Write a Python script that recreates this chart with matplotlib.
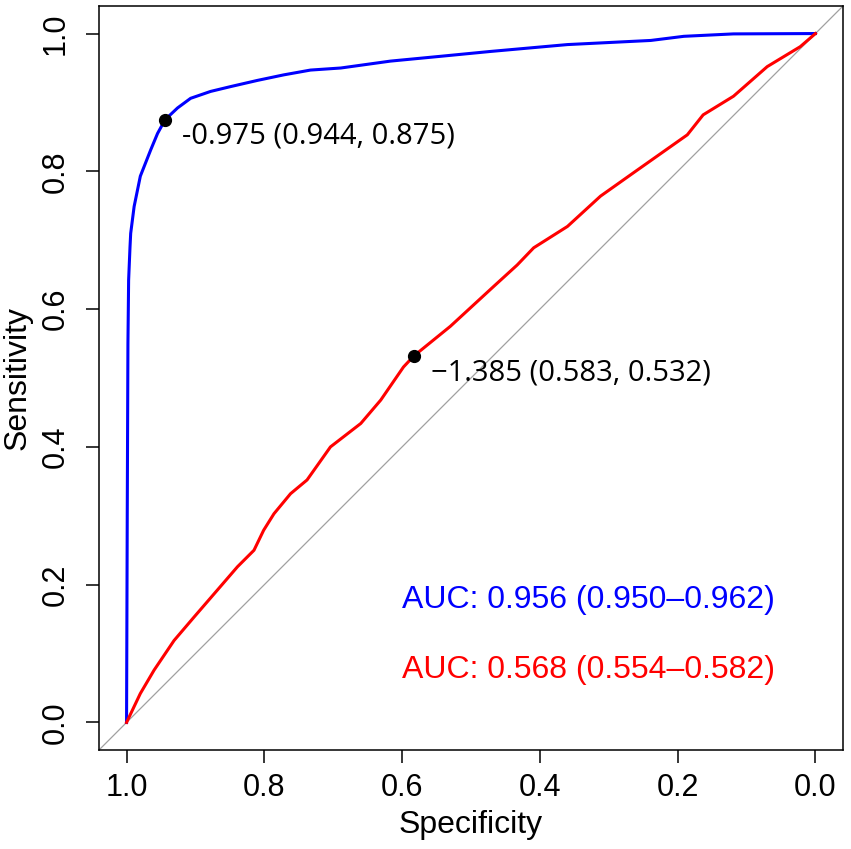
import matplotlib
matplotlib.use("Agg")
import matplotlib.pyplot as plt
import numpy as np

# Blue ROC curve (specificity, sensitivity)
blue_spec = [1.000, 0.999, 0.998, 0.997, 0.995, 0.994, 0.989, 0.980, 0.965, 0.955,
             0.944, 0.926, 0.907, 0.878, 0.849, 0.810, 0.772, 0.733, 0.689, 0.617,
             0.544, 0.472, 0.360, 0.239, 0.191, 0.119, 0.000]
blue_sens = [0.000, 0.300, 0.550, 0.642, 0.690, 0.710, 0.749, 0.793, 0.831, 0.855,
             0.875, 0.892, 0.906, 0.916, 0.923, 0.932, 0.940, 0.947, 0.950, 0.960,
             0.967, 0.974, 0.984, 0.990, 0.996, 0.9995, 1.000]

# Red ROC curve (specificity, sensitivity)
red_spec = [1.000, 0.980, 0.960, 0.931, 0.902, 0.864, 0.839, 0.815, 0.801, 0.786,
            0.762, 0.738, 0.704, 0.660, 0.631, 0.598, 0.583, 0.530, 0.467, 0.433,
            0.409, 0.360, 0.312, 0.264, 0.186, 0.163, 0.119, 0.070, 0.022, 0.000]
red_sens = [0.000, 0.042, 0.076, 0.119, 0.153, 0.197, 0.226, 0.250, 0.279, 0.303,
            0.332, 0.352, 0.400, 0.434, 0.468, 0.516, 0.532, 0.575, 0.633, 0.664,
            0.689, 0.720, 0.764, 0.798, 0.853, 0.882, 0.909, 0.952, 0.981, 1.000]

# Best thresholds
blue_thr = (0.944, 0.875)
red_thr = (0.583, 0.532)
blue_thr_label = "-0.975 (0.944, 0.875)"
red_thr_label = "\u22121.385 (0.583, 0.532)"

auc_labels = ["AUC: 0.956 (0.950\u20130.962)", "AUC: 0.568 (0.554\u20130.582)"]
auc_pos = [(0.6, 0.166), (0.6, 0.064)]

ticks = [0.0, 0.2, 0.4, 0.6, 0.8, 1.0]
tick_labels = ["0.0", "0.2", "0.4", "0.6", "0.8", "1.0"]

plt.rcParams['font.family'] = ['Liberation Sans', 'DejaVu Sans']

fig = plt.figure(figsize=(8.51, 8.49), dpi=100)
ax = fig.add_axes([99 / 851, (849 - 750) / 849, 744 / 851, 744 / 849])

ax.plot([1.04, -0.04], [-0.04, 1.04], color="#A0A0A0", lw=0.9, zorder=1)
ax.plot(blue_spec, blue_sens, color="blue", lw=2.2, zorder=3)
ax.plot(red_spec, red_sens, color="red", lw=2.2, zorder=3)

ann_font = ['Open Sans', 'DejaVu Sans']
for (sx, sy), lab in [(blue_thr, blue_thr_label), (red_thr, red_thr_label)]:
    ax.plot([sx], [sy], 'o', color='black', ms=8.5, zorder=4)
    ax.annotate(lab, (sx, sy), xytext=(12.5, -17.5), textcoords='offset points',
                ha='left', va='baseline', fontsize=21, family=ann_font)

for (tx, ty), lab, c in zip(auc_pos, auc_labels, ["blue", "red"]):
    ax.text(tx, ty, lab, color=c, fontsize=23, ha='left', va='baseline')

ax.set_xlim(1.04, -0.04)
ax.set_ylim(-0.04, 1.04)
ax.set_xticks(ticks)
ax.set_xticklabels(tick_labels)
ax.set_yticks(ticks)
ax.set_yticklabels(tick_labels, rotation=90, va='center')
ax.tick_params(direction='out', length=9.4, width=1.1, labelsize=22, color='black')
ax.tick_params(axis='x', pad=7)
ax.tick_params(axis='y', pad=11)
for s in ax.spines.values():
    s.set_linewidth(1.1)

ax.set_xlabel("Specificity", fontsize=23)
ax.set_ylabel("Sensitivity", fontsize=23)
ax.xaxis.set_label_coords(0.5, (750 - 810) / 744)
ax.xaxis.label.set_va('top')
ax.yaxis.set_label_coords((33 - 99) / 744, 0.5)

fig.savefig("out.png", dpi=100)
